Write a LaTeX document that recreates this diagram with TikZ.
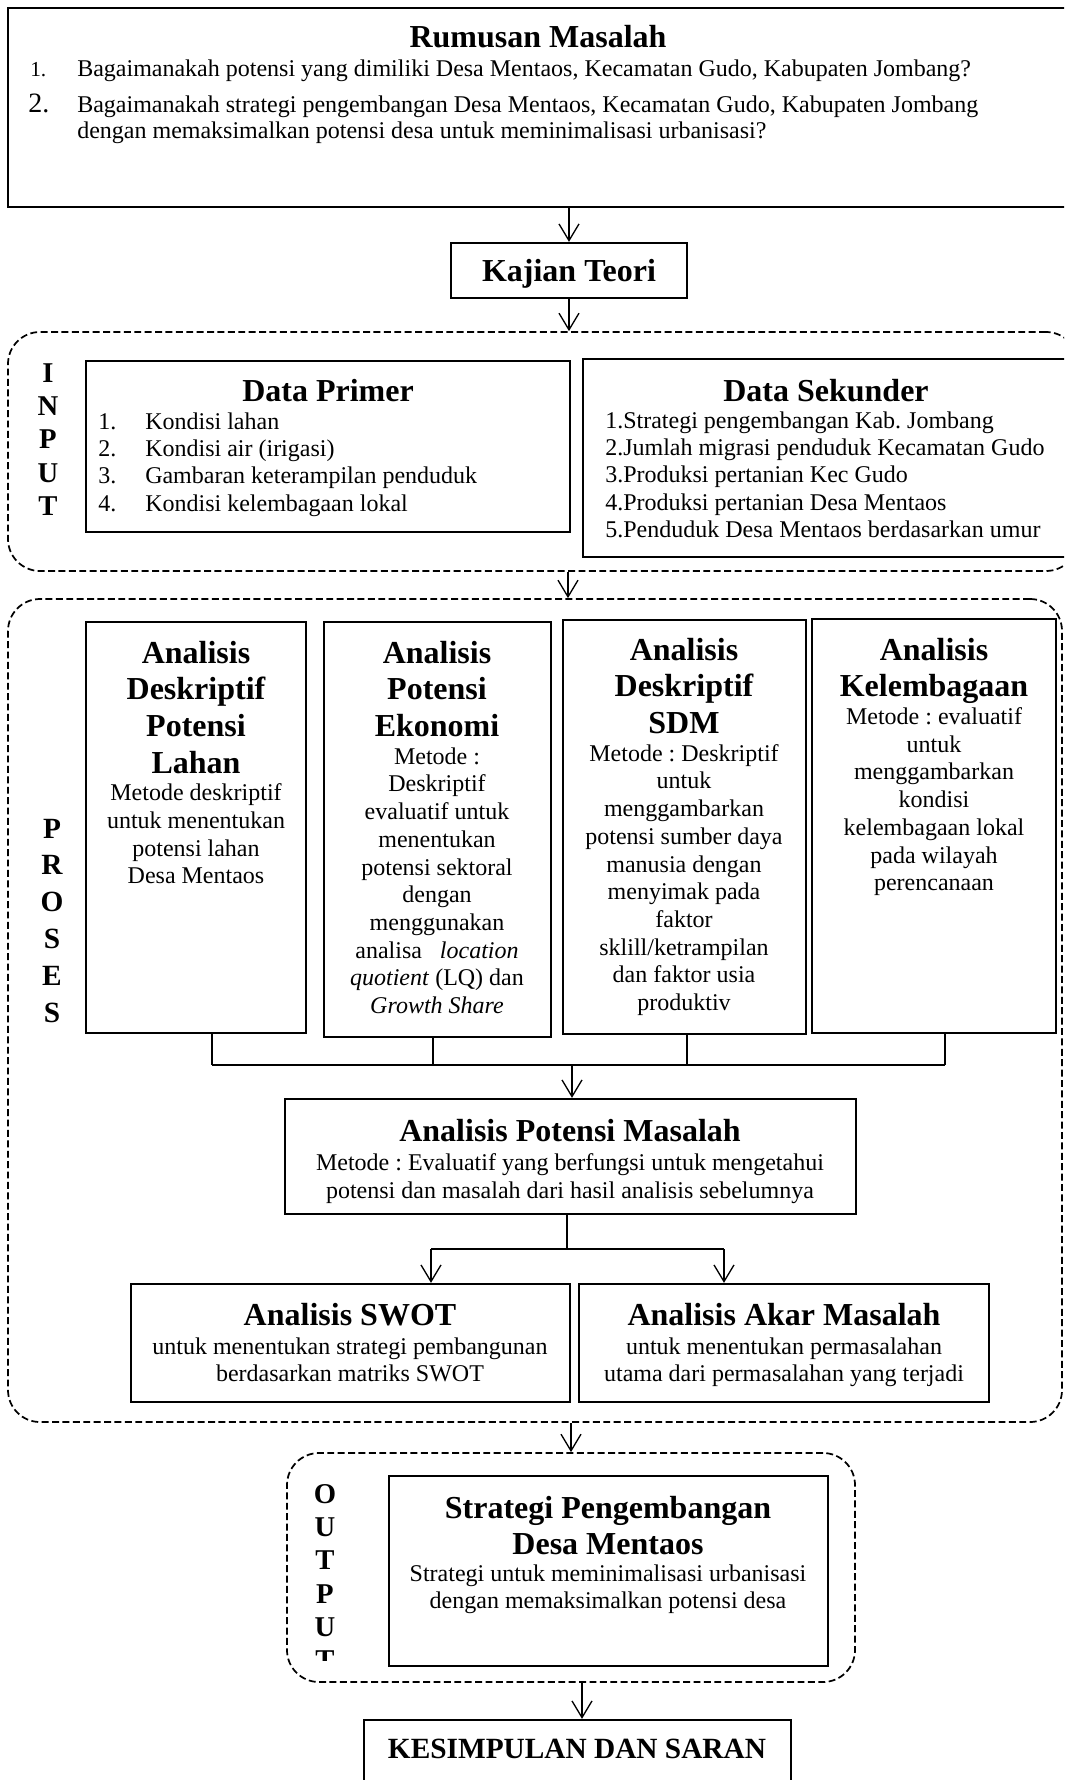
\documentclass[tikz,border=0pt]{standalone}
\usepackage{fontspec}
\setmainfont{Liberation Serif}
\usetikzlibrary{arrows.meta,fit}

\newcommand\hdfont{\fontsize{24}{27.5}\selectfont\bfseries}
\newcommand\bdfont{\fontsize{18}{20.8}\selectfont}

\begin{document}
\frenchspacing
\begin{tikzpicture}[x=0.75pt,y=-0.75pt,
  frame/.style={draw, line width=1.7pt, inner sep=0pt, fit={#1}},
  zone/.style={draw, line width=1.3pt, dash pattern=on 5.2pt off 2.6pt,
               rounded corners=24pt, inner sep=0pt, fit={#1}},
  link/.style={line width=1pt},
  arr/.style={link, -{Straight Barb[length=12.5pt,width=15pt]}},
  txt/.style={inner sep=0pt, anchor=base, align=flush center, text width=#1},
  lst/.style={inner sep=0pt, anchor=base west, align=flush left, text width=#1},
  ttl/.style={inner sep=0pt, anchor=base, font=\hdfont},
  side/.style={inner sep=0pt, anchor=base, align=flush center, text width=30pt}
]
\useasboundingbox (0,0) rectangle (1064,1780);
\clip (0,0) rectangle (1064,1780);

% ---------- Rumusan Masalah ----------
\node[frame={(8,8)(1072,207)}] (rum) {};
\node[ttl] (rumttl) at (538,48) {Rumusan Masalah};
\node[anchor=base west, inner sep=0pt, font=\fontsize{16}{18}\selectfont] (rumn1) at (30,77) {1.};
\node[anchor=base west, inner sep=0pt, font=\bdfont] (rumq1) at (77,77)
  {Bagaimanakah potensi yang dimiliki Desa Mentaos, Kecamatan Gudo, Kabupaten Jombang?};
\node[anchor=base west, inner sep=0pt, font=\fontsize{21}{22}\selectfont] (rumn2) at (28,113) {2.};
\node[anchor=base west, inner sep=0pt, font=\bdfont] (rumq2) at (77,113)
  {Bagaimanakah strategi pengembangan Desa Mentaos, Kecamatan Gudo, Kabupaten Jombang};
\node[anchor=base west, inner sep=0pt, font=\bdfont] (rumq3) at (77,139)
  {dengan memaksimalkan potensi desa untuk meminimalisasi urbanisasi?};

% ---------- Kajian Teori ----------
\node[frame={(451,243)(687,298)}] (kaj) {};
\node[ttl] (kajttl) at (569,281) {Kajian Teori};

% ---------- INPUT ----------
\node[zone={(8,332)(1078,571)}] (inz) {};
\node[side, font=\fontsize{21.5}{25}\selectfont\bfseries] (inlbl) at (48,382) {I\\N\\P\\U\\T};

\node[frame={(86,361)(570,532)}] (dp) {};
\node[ttl] (dpttl) at (328,401) {Data Primer};
\node[lst=300pt, font=\fontsize{18}{20.6}\selectfont] (dplist) at (98,429)
  {\makebox[35.25pt][l]{1.}Kondisi lahan\\
   \makebox[35.25pt][l]{2.}Kondisi air (irigasi)\\
   \makebox[35.25pt][l]{3.}Gambaran keterampilan penduduk\\
   \makebox[35.25pt][l]{4.}Kondisi kelembagaan lokal};

\node[frame={(583,359)(1069,557)}] (ds) {};
\node[ttl] (dsttl) at (826,401) {Data Sekunder};
\node[lst=350pt, font=\fontsize{18}{20.6}\selectfont] (dslist) at (605,428)
  {1.Strategi pengembangan Kab. Jombang\\
   2.Jumlah migrasi penduduk Kecamatan Gudo\\
   3.Produksi pertanian Kec Gudo\\
   4.Produksi pertanian Desa Mentaos\\
   5.Penduduk Desa Mentaos berdasarkan umur};

% ---------- PROSES ----------
\node[zone={(8,599)(1062,1422)}] (prz) {};
\node[side, font=\fontsize{22}{27.6}\selectfont\bfseries] (prlbl) at (52,838) {P\\R\\O\\S\\E\\S};

\node[frame={(86,622)(306,1033)}] (a1) {};
\node[txt=160pt] (a1t) at (196,663)
  {{\hdfont Analisis\\Deskriptif\\Potensi\\Lahan\par}%
   {\bdfont Metode deskriptif\\untuk menentukan\\potensi lahan\\Desa Mentaos\par}};

\node[frame={(324,622)(551,1037)}] (a2) {};
\node[txt=165pt] (a2t) at (437,663)
  {{\hdfont Analisis\\Potensi\\Ekonomi\par}%
   {\bdfont Metode :\\Deskriptif\\evaluatif untuk\\menentukan\\potensi sektoral\\dengan\\menggunakan\\
    analisa\ \ \ \textit{location}\\\textit{quotient} (LQ) dan\\\textit{Growth Share}\par}};

\node[frame={(563,620)(806,1034)}] (a3) {};
\node[txt=175pt] (a3t) at (684,660)
  {{\hdfont Analisis\\Deskriptif\\SDM\par}%
   {\bdfont Metode : Deskriptif\\untuk\\menggambarkan\\potensi sumber daya\\manusia dengan\\
    menyimak pada\\faktor\\sklill/ketrampilan\\dan faktor usia\\produktiv\par}};

\node[frame={(812,619)(1056,1033)}] (a4) {};
\node[txt=175pt] (a4t) at (934,660)
  {{\hdfont Analisis\\Kelembagaan\par}%
   {\bdfont Metode : evaluatif\\untuk\\menggambarkan\\kondisi\\kelembagaan lokal\\
    pada wilayah\\perencanaan\par}};

% collecting bar under the four analyses
\coordinate (j1) at (212,1065);
\coordinate (j2) at (433,1065);
\coordinate (j3) at (687,1065);
\coordinate (j4) at (945,1065);
\coordinate (jm) at (572,1065);
\draw[link] (a1.south -| j1) -- (j1);
\draw[link] (a2.south -| j2) -- (j2);
\draw[link] (a3.south -| j3) -- (j3);
\draw[link] (a4.south -| j4) -- (j4);
\draw[link] (j1) -- (j4);

\node[frame={(285,1099)(856,1214)}] (pm) {};
\node[ttl] (pmttl) at (570,1141) {Analisis Potensi Masalah};
\node[txt=420pt, font=\fontsize{18}{21}\selectfont] (pmtxt) at (570,1170)
  {Metode : Evaluatif yang berfungsi untuk mengetahui\\potensi dan masalah dari hasil analisis sebelumnya};
\draw[arr] (jm) -- (jm |- pm.north);

% split towards SWOT and root-cause analysis
\coordinate (sp) at (567,1249);
\coordinate (sl) at (431,1249);
\coordinate (sr) at (724,1249);
\draw[link] (pm.south -| sp) -- (sp);
\draw[link] (sl) -- (sr);

\node[frame={(131,1284)(570,1402)}] (sw) {};
\node[ttl] (swttl) at (350,1325) {Analisis SWOT};
\node[txt=320pt, font=\fontsize{18}{20.3}\selectfont] (swtxt) at (350,1354)
  {untuk menentukan strategi pembangunan\\berdasarkan matriks SWOT};

\node[frame={(579,1284)(989,1402)}] (ak) {};
\node[ttl] (akttl) at (784,1325) {Analisis Akar Masalah};
\node[txt=300pt, font=\fontsize{18}{20.3}\selectfont] (aktxt) at (784,1354)
  {untuk menentukan permasalahan\\utama dari permasalahan yang terjadi};

\draw[arr] (sl) -- (sl |- sw.north);
\draw[arr] (sr) -- (sr |- ak.north);

% ---------- OUTPUT ----------
\node[zone={(287,1453)(855,1682)}] (otz) {};
\begin{scope}
  \clip (300,1470) rectangle (385,1660);
  \node[side, font=\fontsize{21.5}{25}\selectfont\bfseries] (otlbl) at (325,1503) {O\\U\\T\\P\\U\\T};
\end{scope}

\node[frame={(389,1476)(828,1666)}] (st) {};
\node[txt=320pt] (sttxt) at (608,1518)
  {{\hdfont Strategi Pengembangan\\Desa Mentaos\par}%
   {\fontsize{18}{20.3}\selectfont Strategi untuk meminimalisasi urbanisasi\\dengan memaksimalkan potensi desa\par}};

\node[frame={(364,1720)(791,1800)}] (kes) {};
\node[inner sep=0pt, anchor=base, font=\fontsize{22}{24}\selectfont\bfseries] (kesttl) at (577,1758)
  {KESIMPULAN DAN SARAN};

% ---------- main flow arrows ----------
\draw[arr] (rum.south -| kaj.north) -- (kaj.north);
\draw[arr] (kaj.south) -- (kaj.south |- inz.north);
\coordinate (ip) at (568,571);
\draw[arr] (inz.south -| ip) -- (ip |- prz.north);
\draw[arr] (prz.south -| otz.north) -- (otz.north);
\coordinate (ko) at (582,1682);
\draw[arr] (otz.south -| ko) -- (ko |- kes.north);
\end{tikzpicture}
\end{document}
